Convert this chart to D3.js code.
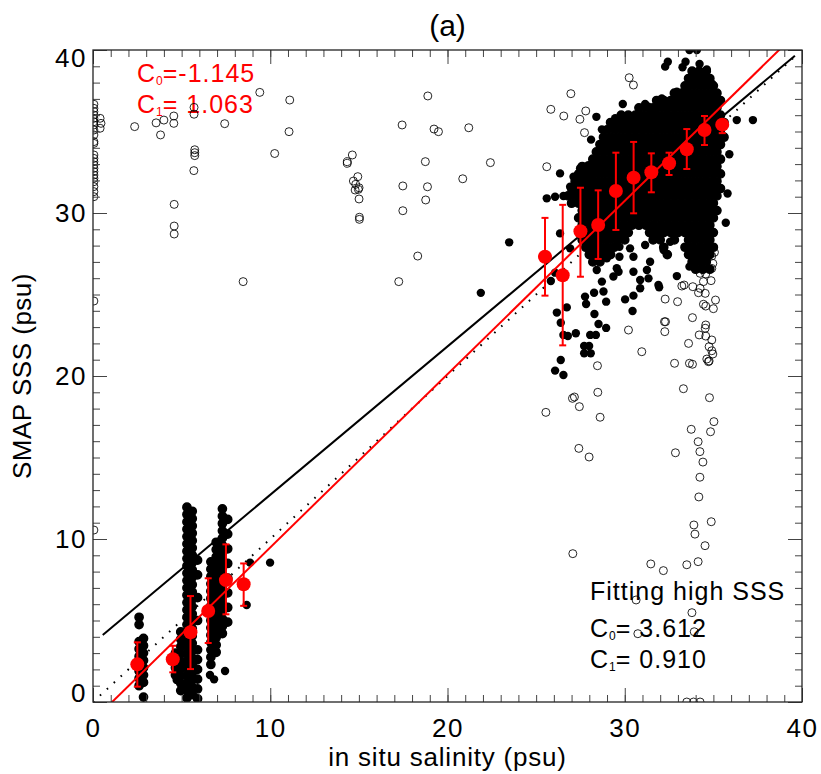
<!DOCTYPE html>
<html>
<head>
<meta charset="utf-8">
<script src="https://cdn.jsdelivr.net/npm/d3@7"></script>
<style>
  body { margin: 0; background: #fff; }
  svg text { font-family: "Liberation Sans", Arial, Helvetica, sans-serif; }
</style>
</head>
<body>
<svg id="chart" width="821" height="774"></svg>
<script>
// binned means with +/- 1 std (red)
const binX    = [2.5, 4.5, 5.5, 6.5, 7.5, 8.5, 25.5, 26.5, 27.5, 28.5, 29.5, 30.5, 31.5, 32.5, 33.5, 34.5, 35.5];
const binMean = [2.31, 2.62, 4.28, 5.58, 7.48, 7.22, 27.32, 26.18, 28.88, 29.26, 31.35, 32.17, 32.5, 33.05, 33.91, 35.09, 35.42];
const binLo   = [0.94, 1.82, 2.02, 3.62, 5.38, 5.9, 24.93, 21.88, 26.09, 27.18, 28.96, 29.98, 31.27, 32.33, 32.7, 34.17, 34.9];
const binHi   = [3.66, 3.45, 6.5, 7.59, 9.67, 8.5, 29.7, 30.5, 31.55, 31.39, 33.7, 34.36, 33.66, 33.7, 35.15, 35.95, 35.7];

// fits: [C0, C1] and x extent of each drawn line
const fitAll  = [-1.145, 1.063];
const fitHigh = [3.612, 0.910];
const fitAllX  = [0, 40];
const fitHighX = [0.55, 39.6];
const oneToOneX = [0, 39.7];

// rejected points (open circles)
const openPts = [
  [0.05,36.67],[0.05,36.42],[0.05,36.22],[0.05,36.01],[0.05,35.81],[0.05,35.6],[0.05,35.4],[0.05,35.09],
  [0.05,34.79],[0.05,34.38],[0.05,34.27],[0.05,33.56],[0.05,33.35],[0.05,33.15],[0.05,32.95],[0.05,32.74],
  [0.05,32.54],[0.05,32.33],[0.05,32.13],[0.05,31.92],[0.05,31.62],[0.05,31.31],[0.05,31.0],[0.05,24.6],
  [0.05,10.55],[0.4,35.81],[0.45,35.5],[0.4,35.2],
  [2.35,35.3],[3.56,35.53],[3.81,34.79],[4.0,35.7],[4.56,35.95],[4.56,35.5],[5.7,36.48],[5.7,36.06],
  [5.74,33.88],[5.74,33.7],[5.74,33.52],[5.69,32.6],[4.58,30.53],[4.58,29.2],[4.58,28.71],[7.43,35.48],
  [9.41,37.4],[11.1,36.93],[11.06,34.99],[10.25,33.65],[8.47,25.79],
  [14.35,33.15],[14.63,33.56],[14.35,33.05],[14.94,32.23],[14.69,31.96],[14.82,31.76],[15.01,31.55],
  [14.97,31.45],[14.79,31.41],[15.01,30.86],[15.03,29.74],[15.03,29.61],
  [18.89,37.18],[17.44,35.4],[19.24,35.15],[19.49,34.99],[21.2,35.23],[18.75,33.15],[22.42,33.09],
  [20.86,32.1],[17.48,31.66],[18.87,31.61],[18.77,30.8],[17.48,30.14],[18.32,27.36],[17.25,25.79],
  [30.25,38.3],[30.49,37.85],[26.96,37.32],[25.83,36.36],[26.56,35.95],[27.8,36.26],[27.47,35.75],
  [27.73,34.93],[25.6,32.84],
  [35.06,27.59],[34.91,27.36],[34.97,26.91],[34.91,26.6],[34.25,26.3],[34.57,26.26],[34.44,25.79],
  [34.87,25.85],[33.22,25.52],[33.35,25.58],[33.84,25.48],[34.25,25.38],[34.16,25.11],[34.54,25.07],
  [32.28,24.72],[32.98,24.56],[35.12,24.66],[34.44,24.4],[34.57,24.29],[35.0,24.13],[33.82,23.58],
  [32.24,23.33],[32.3,23.33],[34.57,23.13],[34.54,22.93],[32.26,22.72],[34.2,22.52],[34.57,22.45],
  [34.91,22.21],[30.21,22.82],[33.6,22.0],[34.76,21.8],[34.91,21.55],[34.97,21.35],[34.63,21.04],
  [34.76,20.92],[30.96,21.49],[28.46,20.63],[32.81,20.78],[33.65,20.78],[33.82,20.72],[34.72,20.88],
  [33.31,19.22],[34.78,18.67],[28.48,19.0],[27.05,18.63],[27.16,18.71],[27.44,18.12],[25.55,17.77],
  [28.61,17.47],[35.03,17.2],[33.75,16.73],[34.84,16.58],[34.14,15.97],[34.24,15.36],[32.86,15.29],
  [27.41,15.56],[27.99,15.03],[34.41,14.72],[34.24,13.79],[34.18,12.58],[33.9,10.86],[34.88,11.06],
  [33.96,10.3],[34.53,9.59],[27.07,9.1],[31.47,8.47],[32.18,8.06],[33.5,8.42],[34.14,8.61],
  [33.79,5.48],[33.92,4.31],[30.74,4.19],[30.64,6.26],[33.5,0.0],[33.88,0.0],[34.25,0.0]
];

// isolated accepted points (filled)
const filledPts = [
  [23.48,28.2],[21.88,25.1],[26.35,28.75],[26.92,27.83],[25.83,25.83],[26.07,26.34],[26.73,24.21],
  [26.17,23.89],[26.39,23.27],[26.54,22.52],[26.79,22.45],[27.24,22.62],[26.07,20.33],[26.54,20.06],
  [26.39,20.98],[27.76,24.87],[27.82,24.42],[28.27,25.11],[28.29,23.8],[28.52,23.19],[28.95,22.95],
  [28.8,25.18],[28.95,24.56],[27.71,21.84],[27.99,21.84],[27.71,21.39],[28.08,21.39],[28.05,22.52],
  [28.37,22.52],[28.42,26.5],[28.71,25.79],[29.36,26.1],[29.55,26.61],[29.65,26.4],[28.99,27.22],
  [29.7,27.93],[29.7,27.32],[30.49,26.4],[30.87,25.89],[31.34,25.99],[30.87,25.38],[31.9,25.58],
  [31.94,25.44],[30.49,24.93],[30.02,24.7],[30.44,23.99],[30.3,27.83],[30.49,27.32],[31.15,28.04],
  [31.43,27.01],[31.25,26.5],[32.19,27.73],[32.56,28.24],[32.94,26.13],[33.65,26.71],[34.01,27.32],
  [29.89,36.69],[31.15,36.69],[31.34,36.52],[31.66,36.2],[32.09,37.03],[32.79,36.73],[32.94,37.44],
  [33.46,37.55],[32.28,38.98],[32.43,39.28],[33.43,39.28],[33.26,38.94],[34.22,39.14],[34.63,38.81],
  [33.65,40.0],[34.07,40.0],[36.32,35.7],[37.23,35.7],[34.91,37.95],[28.71,35.13],[29.46,35.81],
  [27.95,32.94],[27.48,32.74],[27.11,32.23],[26.35,32.43],[27.67,32.33],[28.05,32.23],[26.54,31.04],
  [26.07,31.0],[25.6,30.9],[26.92,31.61],[28.4,35.9],[28.1,34.5],[35.9,33.6],[35.8,31.2],[35.7,29.4],
  [4.72,1.35],[6.6,1.66],[6.83,1.39],[7.45,1.9],[8.67,5.95],[8.86,8.55],[9.99,8.55]
];

// dense high-salinity cloud, read row by row
const denseY = [38.7, 38.25, 37.8, 37.35, 36.9, 36.45, 36.0, 35.55, 35.1, 34.65, 34.2, 33.75, 33.3, 32.85,
  32.4, 31.95, 31.5, 31.05, 30.6, 30.15, 29.7, 29.25, 28.8, 28.35, 27.9, 27.45, 27.0, 26.55];
const denseX = [
  [33.8,34.2,34.6],
  [33.6,34.0,34.4,34.8],
  [33.4,33.8,34.2,34.6,35.0],
  [32.8,33.2,33.6,34.0,34.4,34.8,35.2],
  [31.8,32.2,32.6,33.0,33.4,33.8,34.2,34.6,35.0,35.4],
  [30.8,31.2,31.6,32.0,32.4,32.8,33.2,33.6,34.0,34.4,34.8,35.2],
  [29.8,30.2,30.6,31.0,31.4,31.8,32.2,32.6,33.0,33.4,33.8,34.2,34.6,35.0,35.4],
  [29.2,29.6,30.0,30.4,30.8,31.2,31.6,32.0,32.4,32.8,33.2,33.6,34.0,34.4,34.8,35.2,35.6],
  [29.0,29.4,29.8,30.2,30.6,31.0,31.4,31.8,32.2,32.6,33.0,33.4,33.8,34.2,34.6,35.0,35.4],
  [28.8,29.2,29.6,30.0,30.4,30.8,31.2,31.6,32.0,32.4,32.8,33.2,33.6,34.0,34.4,34.8,35.2,35.6],
  [28.6,29.0,29.4,29.8,30.2,30.6,31.0,31.4,31.8,32.2,32.6,33.0,33.4,33.8,34.2,34.6,35.0,35.4],
  [28.4,28.8,29.2,29.6,30.0,30.4,30.8,31.2,31.6,32.0,32.4,32.8,33.2,33.6,34.0,34.4,34.8,35.2],
  [28.2,28.6,29.0,29.4,29.8,30.2,30.6,31.0,31.4,31.8,32.2,32.6,33.0,33.4,33.8,34.2,34.6,35.0,35.4],
  [27.6,28.0,28.4,28.8,29.2,29.6,30.0,30.4,30.8,31.2,31.6,32.0,32.4,32.8,33.2,33.6,34.0,34.4,34.8,35.2],
  [27.4,27.8,28.2,28.6,29.0,29.4,29.8,30.2,30.6,31.0,31.4,31.8,32.2,32.6,33.0,33.4,33.8,34.2,34.6,35.0,35.4],
  [27.2,27.6,28.0,28.4,28.8,29.2,29.6,30.0,30.4,30.8,31.2,31.6,32.0,32.4,32.8,33.2,33.6,34.0,34.4,34.8,35.2],
  [27.0,27.4,27.8,28.2,28.6,29.0,29.4,29.8,30.2,30.6,31.0,31.4,31.8,32.2,32.6,33.0,33.4,33.8,34.2,34.6,35.0,35.4],
  [26.8,27.2,27.6,28.0,28.4,28.8,29.2,29.6,30.0,30.4,30.8,31.2,31.6,32.0,32.4,32.8,33.2,33.6,34.0,34.4,34.8,35.2],
  [27.0,27.4,27.8,28.2,28.6,29.0,29.4,29.8,30.2,30.6,31.0,31.4,31.8,32.2,32.6,33.0,33.4,33.8,34.2,34.6,35.0],
  [27.6,28.0,28.4,28.8,29.2,29.6,30.0,30.4,30.8,31.2,31.6,32.0,32.4,32.8,33.2,33.6,34.0,34.4,34.8,35.2],
  [27.4,27.8,28.2,28.6,29.0,29.4,29.8,30.2,30.6,31.0,31.4,31.8,32.2,32.6,33.0,33.4,33.8,34.2,34.6,35.0],
  [27.6,28.0,28.4,28.8,29.2,29.6,30.0,30.4,30.8,31.2,31.6,32.0,32.4,32.8,33.2,33.6,34.0,34.4,34.8],
  [27.8,28.2,28.6,29.0,29.4,29.8,30.2,31.4,31.8,32.2,32.6,33.0,33.4,33.8,34.2,34.6,35.0],
  [27.6,28.0,28.4,28.8,29.2,29.6,30.0,31.6,32.0,32.8,33.6,34.0,34.4,34.8],
  [27.8,28.2,28.6,29.0,29.4,32.2,33.4,33.8,34.2,34.6,35.0],
  [28.0,28.4,28.8,29.2,32.4,33.6,34.0,34.4,34.8],
  [28.2,28.6,33.8,34.2,34.6],
  [34.0,34.4,34.8]
];

// low-salinity stations, read column by column
const lowColX = [2.6, 2.85, 4.65, 4.95, 5.3, 5.6, 5.9, 6.65, 6.95, 7.3, 7.6];
const lowColY = [
  [5.2,4.75,3.7,3.25,2.8,2.35,1.9,1.45,1.0],
  [3.9,3.45,3.0,2.55,2.1,1.65,1.2,0.3],
  [3.0,2.55,2.1,1.65],
  [4.3,3.85,3.4,2.95,2.5,2.05,1.6,1.15,0.7],
  [11.95,11.5,11.05,10.6,10.15,9.7,9.25,8.8,8.35,7.9,7.45,7.0,6.55,6.1,5.65,5.2,4.75,4.3,3.85,3.4,2.95,2.5,2.05,1.6,1.15,0.7,0.25],
  [11.7,11.25,10.8,10.35,9.9,9.45,9.0,8.55,8.1,7.65,7.2,6.75,6.3,5.85,5.4,4.95,4.5,4.05,3.6,3.15,2.7,2.25,1.8,1.35,0.9,0.45],
  [8.7,7.8,6.4,5.0,3.2,2.6,2.0,1.4,0.8,0.2],
  [8.6,8.15,7.7,7.25,6.8,6.35,5.9,5.45,5.0,4.55,4.1,3.65,3.2,2.75,2.3],
  [9.8,9.35,8.9,8.45,8.0,7.55,7.1,6.65,6.2,5.75,5.3,4.85,4.4,3.95,3.5,3.05],
  [11.85,11.4,10.95,10.5,10.05,9.6,9.15,8.7,8.25,7.8,7.35,6.9,6.45,6.0,5.55,5.1,4.65,4.2],
  [11.2,10.3,9.4,8.5,7.6,6.7,5.8,4.9]
];

const xMajorTicks = [0, 10, 20, 30, 40];
const yMajorTicks = [0, 10, 20, 30, 40];
const minorTicks = d3.range(0, 41, 1);

var svg = d3.select("#chart"),
    margin = { top: 50, right: 19, bottom: 72, left: 93 },
    width = +svg.attr("width") - margin.left - margin.right,
    height = +svg.attr("height") - margin.top - margin.bottom;

var x = d3.scaleLinear().domain([0, 40]).range([0, width]),
    y = d3.scaleLinear().domain([0, 40]).range([height, 0]);

var g = svg.append("g")
  .attr("transform", "translate(" + margin.left + "," + margin.top + ")");

svg.append("defs").append("clipPath").attr("id", "plotClip")
  .append("rect").attr("width", width).attr("height", height);

// annotation text (drawn under the markers, as in the original)
function coefText(x0, y0, sub, rest, color) {
  var t = g.append("text").attr("x", x0).attr("y", y0).attr("fill", color)
    .style("font-size", "25px").style("letter-spacing", "1px");
  t.append("tspan").text("C");
  t.append("tspan").attr("dy", 3).style("font-size", "12px").style("letter-spacing", "0px").text(sub);
  t.append("tspan").attr("dy", -3).text(rest);
}
coefText(44, 32, "0", "=-1.145", "#ff0000");
coefText(44, 63, "1", "= 1.063", "#ff0000");
g.append("text").attr("x", 497).attr("y", 550).style("font-size", "25px")
  .style("letter-spacing", "1px").text("Fitting high SSS");
coefText(497, 587, "0", "= 3.612", "#000");
coefText(497, 618, "1", "= 0.910", "#000");

var plot = g.append("g").attr("clip-path", "url(#plotClip)");

// dense cloud + columns (many overlapping stations) and isolated points
var crowd = [];
denseY.forEach(function(yy, i) { denseX[i].forEach(function(xx) { crowd.push([xx, yy]); }); });
lowColX.forEach(function(xx, i) { lowColY[i].forEach(function(yy) { crowd.push([xx, yy]); }); });

plot.selectAll(".crowd")
  .data(crowd)
  .enter().append("circle")
  .attr("class", "crowd")
  .attr("cx", function(d) { return x(d[0]); })
  .attr("cy", function(d) { return y(d[1]); })
  .attr("r", 4.1)
  .attr("fill", "#000")
  .attr("stroke", "#000")
  .attr("stroke-width", 1.5);

plot.selectAll(".dot")
  .data(filledPts)
  .enter().append("circle")
  .attr("class", "dot")
  .attr("cx", function(d) { return x(d[0]); })
  .attr("cy", function(d) { return y(d[1]); })
  .attr("r", 4.2)
  .attr("fill", "#000");

plot.selectAll(".open")
  .data(openPts)
  .enter().append("circle")
  .attr("class", "open")
  .attr("cx", function(d) { return x(d[0]); })
  .attr("cy", function(d) { return y(d[1]); })
  .attr("r", 4)
  .attr("fill", "none")
  .attr("stroke", "#000")
  .attr("stroke-width", 0.85);

// 1:1 dotted line and the two fits
plot.append("line")
  .attr("x1", x(oneToOneX[0])).attr("y1", y(oneToOneX[0]))
  .attr("x2", x(oneToOneX[1])).attr("y2", y(oneToOneX[1]))
  .attr("stroke", "#000").attr("stroke-width", 2)
  .attr("stroke-dasharray", "1.6,7.8");

plot.append("line")
  .attr("x1", x(fitHighX[0])).attr("y1", y(fitHigh[0] + fitHigh[1] * fitHighX[0]))
  .attr("x2", x(fitHighX[1])).attr("y2", y(fitHigh[0] + fitHigh[1] * fitHighX[1]))
  .attr("stroke", "#000").attr("stroke-width", 2);

plot.append("line")
  .attr("x1", x(fitAllX[0])).attr("y1", y(fitAll[0] + fitAll[1] * fitAllX[0]))
  .attr("x2", x(fitAllX[1])).attr("y2", y(fitAll[0] + fitAll[1] * fitAllX[1]))
  .attr("stroke", "#ff0000").attr("stroke-width", 2);

// error bars
var bars = plot.selectAll(".ebar").data(binX).enter().append("g").attr("class", "ebar");
bars.append("line")
  .attr("x1", function(d) { return x(d); }).attr("x2", function(d) { return x(d); })
  .attr("y1", function(d, i) { return y(binLo[i]); }).attr("y2", function(d, i) { return y(binHi[i]); });
bars.append("line")
  .attr("x1", function(d) { return x(d) - 3.5; }).attr("x2", function(d) { return x(d) + 3.5; })
  .attr("y1", function(d, i) { return y(binLo[i]); }).attr("y2", function(d, i) { return y(binLo[i]); });
bars.append("line")
  .attr("x1", function(d) { return x(d) - 3.5; }).attr("x2", function(d) { return x(d) + 3.5; })
  .attr("y1", function(d, i) { return y(binHi[i]); }).attr("y2", function(d, i) { return y(binHi[i]); });
bars.selectAll("line").attr("stroke", "#ff0000").attr("stroke-width", 2);

plot.selectAll(".mean")
  .data(binX)
  .enter().append("circle")
  .attr("class", "mean")
  .attr("cx", function(d) { return x(d); })
  .attr("cy", function(d, i) { return y(binMean[i]); })
  .attr("r", 7)
  .attr("fill", "#ff0000");

// axes: inward minor + major ticks on all four sides
function tickAxis(axis, values, len, tx) {
  var a = g.append("g").attr("class", "axis").attr("transform", tx)
    .call(axis.tickValues(values).tickSizeInner(-len).tickSizeOuter(0).tickFormat(""));
  a.select(".domain").remove();
  a.selectAll("line").attr("stroke", "#444").attr("stroke-width", 1);
  return a;
}
tickAxis(d3.axisBottom(x), minorTicks, 7, "translate(0," + height + ")");
tickAxis(d3.axisTop(x), minorTicks, 7, null);
tickAxis(d3.axisLeft(y), minorTicks, 7, null);
tickAxis(d3.axisRight(y), minorTicks, 7, "translate(" + width + ",0)");
tickAxis(d3.axisBottom(x), xMajorTicks, 14, "translate(0," + height + ")");
tickAxis(d3.axisTop(x), xMajorTicks, 14, null);
tickAxis(d3.axisLeft(y), yMajorTicks, 14, null);
tickAxis(d3.axisRight(y), yMajorTicks, 14, "translate(" + width + ",0)");

g.append("rect").attr("width", width).attr("height", height)
  .attr("fill", "none").attr("stroke", "#222").attr("stroke-width", 1.3);

// tick labels
g.append("g").attr("class", "axis axis--x")
  .attr("transform", "translate(0," + height + ")")
  .call(d3.axisBottom(x).tickValues(xMajorTicks).tickSize(0).tickPadding(17).tickFormat(d3.format("d")))
  .call(function(s) { s.select(".domain").remove(); })
  .selectAll("text").style("font-size", "26px").style("letter-spacing", "1.5px").attr("fill", "#000")
  .style("font-family", "'Liberation Sans', Arial, sans-serif");

g.append("g").attr("class", "axis axis--y")
  .call(d3.axisLeft(y).tickValues(yMajorTicks).tickSize(0).tickPadding(6).tickFormat(d3.format("d")))
  .call(function(s) { s.select(".domain").remove(); })
  .selectAll("text").style("font-size", "26px").style("letter-spacing", "1.5px").attr("fill", "#000")
  .style("font-family", "'Liberation Sans', Arial, sans-serif")
  .attr("dy", function(d) { return d === 40 ? "0.62em" : d === 0 ? "-0.02em" : "0.34em"; });

// titles
svg.append("text").attr("x", margin.left + width / 2).attr("y", 36)
  .attr("text-anchor", "middle").style("font-size", "30px").text("(a)");
svg.append("text").attr("x", margin.left + width / 2).attr("y", 766)
  .attr("text-anchor", "middle").style("font-size", "26px").style("letter-spacing", "0.8px")
  .text("in situ salinity (psu)");
svg.append("text").attr("transform", "translate(31," + (margin.top + height / 2) + ") rotate(-90)")
  .attr("text-anchor", "middle").style("font-size", "26px").style("letter-spacing", "0.5px")
  .text("SMAP SSS (psu)");
</script>
</body>
</html>
